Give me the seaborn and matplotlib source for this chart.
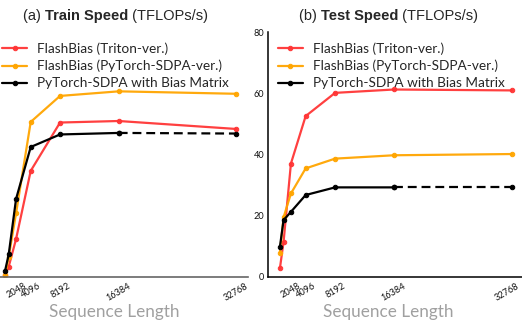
import matplotlib
matplotlib.use("Agg")
import matplotlib.pyplot as plt
import matplotlib.transforms as mtransforms
import seaborn as sns
import numpy as np

seq_len = [512, 1024, 2048, 4096, 8192, 16384, 32768]
tick_labels = ["", "", "2048", "4096", "8192", "16384", "32768"]

train_triton = [0.7, 3.4, 12.4, 34.7, 50.5, 51.0, 48.4]
train_sdpa_ver = [0.6, 6.6, 20.8, 50.7, 59.2, 60.7, 59.9]
train_bias = [2.0, 7.4, 25.5, 42.5, 46.6, 47.1, 46.9]

test_triton = [2.8, 11.5, 37.1, 52.6, 60.2, 61.3, 61.0]
test_sdpa_ver = [8.0, 19.5, 27.3, 35.5, 38.7, 39.8, 40.2]
test_bias = [9.8, 18.6, 21.3, 26.8, 29.3, 29.3, 29.3]

labels = ["FlashBias (Triton-ver.)", "FlashBias (PyTorch-SDPA-ver.)",
          "PyTorch-SDPA with Bias Matrix"]
colors = ["#ff3535", "#ffa500", "#000000"]

sns.set_theme(style="white")
plt.rcParams["font.family"] = ["Lato", "DejaVu Sans"]

W, H = 522, 322
fig = plt.figure(figsize=(W / 100, H / 100), dpi=100)

def px_axes(x0, x1, ytop, ybot):
    return fig.add_axes([x0 / W, 1 - ybot / H, (x1 - x0) / W, (ybot - ytop) / H])

axL = px_axes(-6.5, 247.6, 32.3, 277)
axR = px_axes(268.3, 523.3, 32.3, 277)

def draw(ax, series):
    for (vals, lab, col) in zip(series, labels, colors):
        if col == "#000000":
            sns.lineplot(x=seq_len[:-1], y=vals[:-1], ax=ax, color=col, marker="o",
                         markersize=3.2, markeredgecolor=col, linewidth=1.6, label=lab)
            sns.lineplot(x=seq_len[-2:], y=vals[-2:], ax=ax, color=col, marker="o",
                         markersize=3.2, markeredgecolor=col, linewidth=1.6,
                         linestyle=(0, (4, 2.2)), label=None)
        else:
            sns.lineplot(x=seq_len, y=vals, ax=ax, color=col, marker="o",
                         markersize=3.2, markeredgecolor=col, linewidth=1.6, label=lab,
                         alpha=0.95)
    ax.set_ylim(0, 80)
    ax.set_xticks(seq_len)
    ax.set_xticklabels(tick_labels, rotation=30, fontsize=6.6, ha="center", color="#111111")
    for s in ["top", "right"]:
        ax.spines[s].set_visible(False)
    ax.set_xlabel("")
    ax.set_ylabel("")

draw(axL, [train_triton, train_sdpa_ver, train_bias])
draw(axR, [test_triton, test_sdpa_ver, test_bias])

axL.spines["left"].set_visible(False)
axL.set_yticks([])
axL.spines["bottom"].set_color("#666666")
axL.spines["bottom"].set_linewidth(1.2)
axL.tick_params(axis="x", length=2, width=0.8, color="#666666", pad=1)

axR.set_yticks([0, 20, 40, 60, 80])
axR.set_yticklabels(["0", "20", "40", "60", "80"], fontsize=6.6, color="#111111")
for s in ["left", "bottom"]:
    axR.spines[s].set_color("black")
    axR.spines[s].set_linewidth(1.1)
axR.tick_params(axis="both", length=2, width=0.8, color="black", pad=1)

# keep the right-most tick label of the right panel inside the figure
last = axR.get_xticklabels()[-1]
last.set_transform(last.get_transform() +
                   mtransforms.ScaledTranslation(-5 / 100, 0, fig.dpi_scale_trans))

for ax, anchor_x in [(axL, 2), (axR, 277.7)]:
    leg = ax.legend(loc="upper left", bbox_to_anchor=(anchor_x / W, 1 - 42.5 / H),
                    bbox_transform=fig.transFigure, frameon=False, fontsize=9.8,
                    handlelength=1.85, handletextpad=0.75, labelspacing=0.36,
                    borderpad=0, borderaxespad=0)

for ax, cx in [(axL, 114), (axR, 388)]:
    ax.set_xlabel("Sequence Length", fontsize=12.3, color="#a0a0a0")
    bb = ax.get_position()
    ax.xaxis.set_label_coords((cx / W - bb.x0) / bb.width, (1 - 311.7 / H - bb.y0) / bb.height)
    ax.xaxis.label.set_va("center")

def title(cx, parts):
    fig.canvas.draw()
    r = fig.canvas.get_renderer()
    texts = []
    for s, w in parts:
        t = fig.text(0, 1 - 20 / H, s, fontsize=10.5, fontweight=w,
                     family=["Liberation Sans", "DejaVu Sans"], va="baseline", ha="left")
        texts.append(t)
    widths = [t.get_window_extent(r).width for t in texts]
    x = cx - sum(widths) / 2
    for t, w in zip(texts, widths):
        t.set_x(x / W)
        x += w

title(115.3, [("(a) ", "normal"), ("Train Speed", "bold"), (" (TFLOPs/s)", "normal")])
title(388.5, [("(b) ", "normal"), ("Test Speed", "bold"), (" (TFLOPs/s)", "normal")])

fig.savefig("out.png", dpi=100)
